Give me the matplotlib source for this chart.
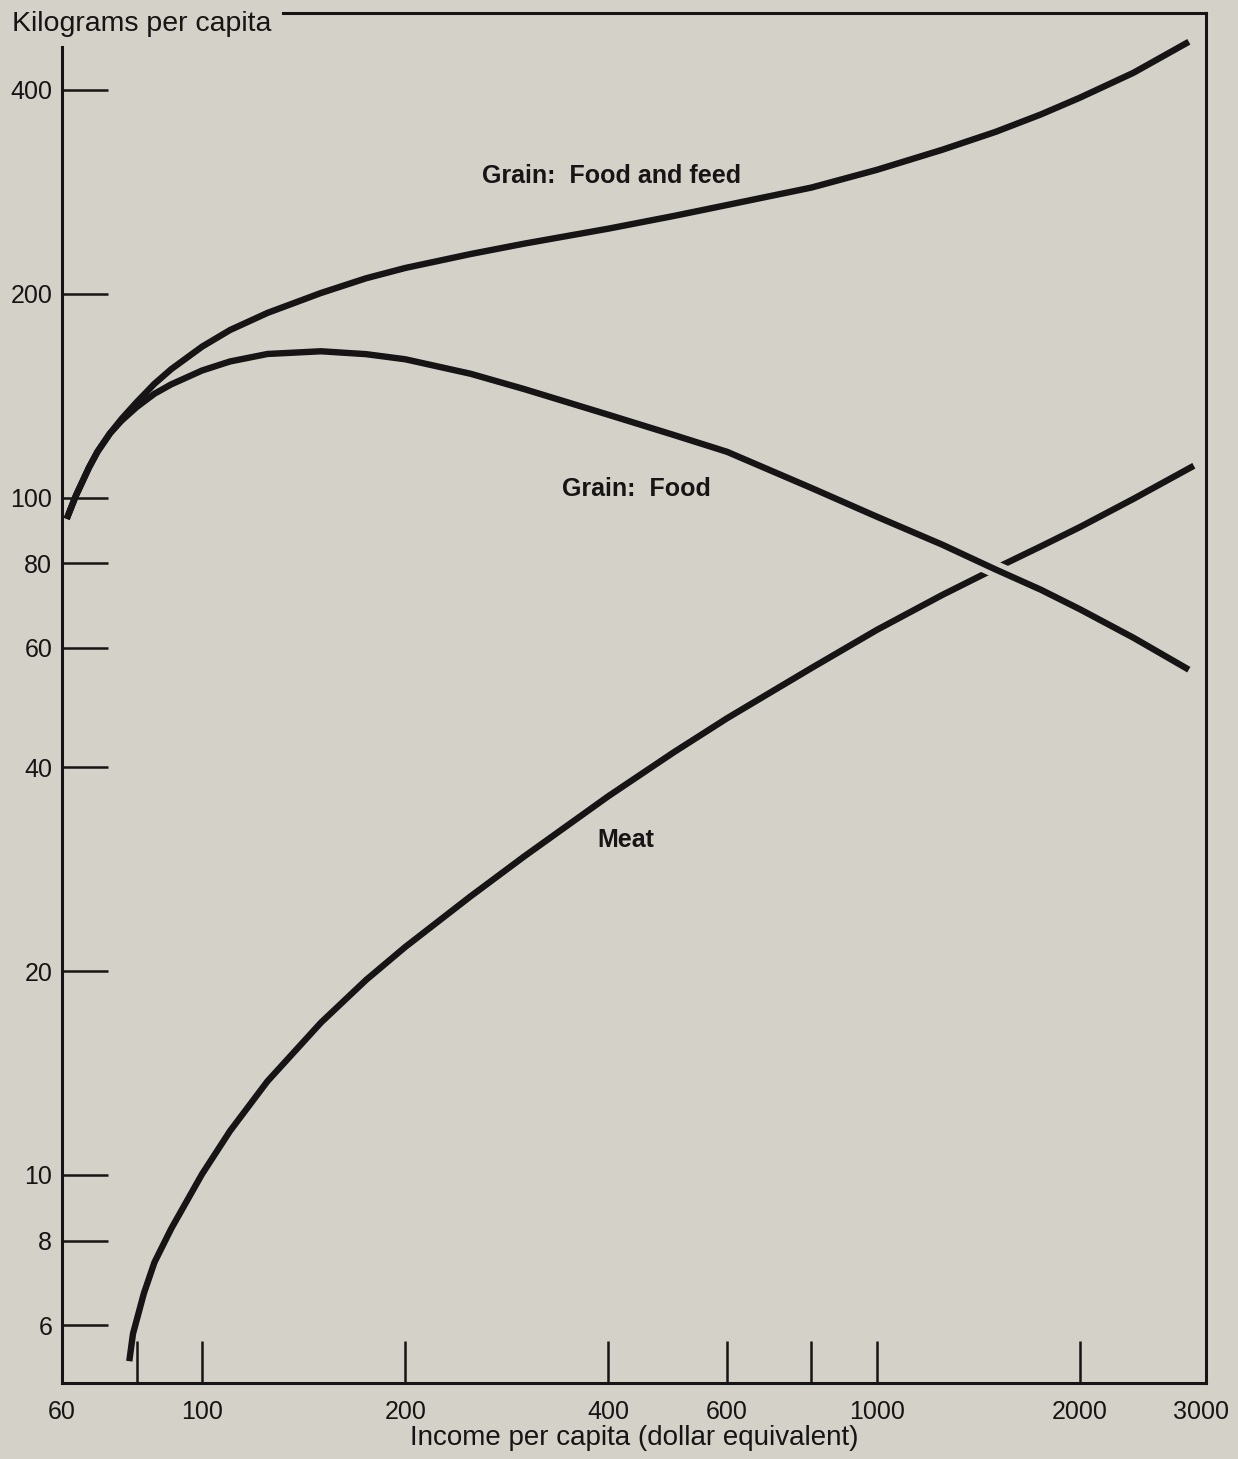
import numpy as np
import matplotlib
matplotlib.use("Agg")
import matplotlib.pyplot as plt
from matplotlib.ticker import FixedLocator, NullFormatter

plt.rcParams['font.family'] = ['Liberation Sans', 'DejaVu Sans']

# income per capita (dollar equivalent) and kilograms per capita
grain_income = [63, 65, 68, 70, 73, 76, 80, 85, 90, 100, 110, 125, 150, 175, 200,
                250, 300, 400, 500, 600, 800, 1000, 1250, 1500, 1750, 2000, 2400, 2900]
feed_kg = [93.0, 100.6, 110.8, 116.9, 124.3, 130.7, 138.3, 147.2, 154.7, 167.0,
           176.7, 187.3, 200.4, 210.7, 218.2, 228.8, 237.0, 249.4, 260.4, 270.3,
           286.8, 304.6, 326.1, 346.6, 367.7, 389.3, 423.6, 470.7]
food_kg = [93.0, 100.6, 110.8, 116.9, 124.3, 129.9, 136.0, 142.3, 146.9, 154.0,
           158.8, 162.9, 164.4, 162.8, 160.0, 152.3, 144.6, 132.5, 123.7, 116.8,
           103.3, 93.7, 85.2, 78.3, 73.1, 68.4, 62.1, 55.7]

meat_income = [78, 79, 82, 85, 90, 100, 110, 125, 150, 175, 200, 250, 300, 400,
               500, 600, 800, 1000, 1250, 1500, 1750, 2000, 2400, 2950]
meat_kg = [5.31, 5.83, 6.69, 7.43, 8.33, 10.03, 11.61, 13.75, 16.78, 19.40, 21.70,
           25.78, 29.51, 36.23, 42.06, 47.23, 56.01, 63.76, 71.80, 78.63, 84.70,
           90.45, 99.53, 111.4]

x_major = [100, 200, 400, 600, 1000, 2000]
x_minor = [80, 800]
y_ticks = [6, 8, 10, 20, 40, 60, 80, 100, 200, 400]

bg = '#d4d2c8'
ink = '#161414'

fig = plt.figure(figsize=(12.38, 14.59), dpi=100, facecolor=bg)
ax = fig.add_axes([0.05008, 0.05209, 0.92407, 0.93934], facecolor=bg)
ax.set_xscale('log')
ax.set_yscale('log')
ax.set_xlim(62, 3075)
ax.set_ylim(4.93, 520)

lw = 4.6
style = dict(color=ink, lw=lw, solid_capstyle='butt', solid_joinstyle='round')
ax.plot(meat_income, meat_kg, zorder=2, **style)
# the meat line passes under grain: food where they cross
gi = np.array(grain_income)
fk = np.array(food_kg)
sel = gi >= 700
ax.plot(gi[sel], fk[sel], color=bg, lw=12, solid_capstyle='butt', zorder=3)
ax.plot(grain_income, food_kg, zorder=4, **style)
ax.plot(grain_income, feed_kg, zorder=4, **style)

lab = dict(fontsize=18, fontweight='bold', color=ink, ha='center', va='center')
ax.text(405, 298, 'Grain:  Food and feed', **lab)
ax.text(440, 103, 'Grain:  Food', **lab)
ax.text(425, 31.2, 'Meat', **lab)

# ticks
ax.xaxis.set_major_locator(FixedLocator(x_major))
ax.xaxis.set_minor_locator(FixedLocator(x_minor))
ax.set_xticklabels([str(v) for v in x_major])
ax.xaxis.set_minor_formatter(NullFormatter())
ax.yaxis.set_major_locator(FixedLocator(y_ticks))
ax.yaxis.set_minor_locator(FixedLocator([]))
ax.set_yticklabels([str(v) for v in y_ticks])

ax.tick_params(axis='x', which='both', direction='in', length=30, width=1.8,
               color=ink, labelsize=18, labelcolor=ink, pad=12)
ax.tick_params(axis='y', which='both', direction='in', length=33, width=1.8,
               color=ink, labelsize=18, labelcolor=ink, pad=7)

# end labels of the income axis sit on the frame corners
ax.text(0, -0.0124, '60', transform=ax.transAxes, ha='center', va='top',
        fontsize=18, color=ink)
ax.text(0.996, -0.0124, '3000', transform=ax.transAxes, ha='center', va='top',
        fontsize=18, color=ink)

for s in ax.spines.values():
    s.set_linewidth(2.2)
    s.set_color(ink)
ax.spines['top'].set_bounds(132, 3075)
ax.spines['left'].set_bounds(4.93, 463)

fig.text(12 / 1238, 1 - 31 / 1459, 'Kilograms per capita', fontsize=20.5,
         color=ink, ha='left', va='baseline')
ax.set_xlabel('Income per capita (dollar equivalent)', fontsize=20, color=ink,
              labelpad=1)

fig.savefig('out.png', dpi=100, facecolor=bg)
